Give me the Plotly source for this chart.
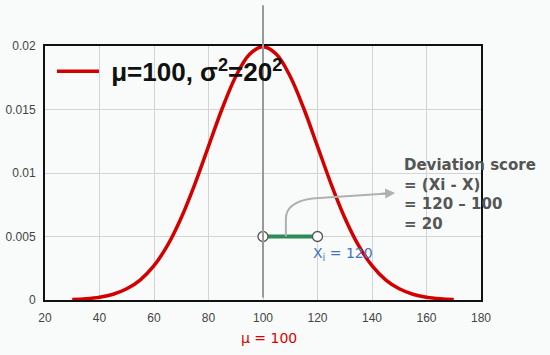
import plotly.graph_objects as go

# Data
x_vals = [30, 35, 40, 45, 50, 55, 60, 65, 70, 75, 80, 85, 90, 95, 100,
          105, 110, 115, 120, 125, 130, 135, 140, 145, 150, 155, 160, 165, 170]
density = [0.00004, 0.00010, 0.00022, 0.00045, 0.00088, 0.00159, 0.00270, 0.00432,
           0.00648, 0.00913, 0.01210, 0.01506, 0.01760, 0.01933, 0.01995,
           0.01933, 0.01760, 0.01506, 0.01210, 0.00913, 0.00648, 0.00432,
           0.00270, 0.00159, 0.00088, 0.00045, 0.00022, 0.00010, 0.00004]
mu = 100
xi = 120
dev_y = 0.005
x_ticks = [20, 40, 60, 80, 100, 120, 140, 160, 180]
y_ticks = [0, 0.005, 0.01, 0.015, 0.02]
y_ticktext = ["0", "0.005", "0.01", "0.015", "0.02"]

BG = "#f8fbf9"
fig = go.Figure()

fig.add_trace(go.Scatter(
    x=x_vals, y=density, mode="lines", line=dict(color="#d40000", width=3.5, shape="spline"),
    name="<b>\u00a0\u03bc=100, \u03c3<sup>2</sup>=20<sup>2</sup></b>", showlegend=True))

fig.add_trace(go.Scatter(
    x=[mu, xi], y=[dev_y, dev_y], mode="lines", line=dict(color="#2e8b57", width=4),
    showlegend=False, hoverinfo="skip"))

# connector arrow path
fig.add_shape(type="path", xref="x", yref="y",
              path="M 108.4,0.005 L 108.4,0.0064 Q 108.4,0.0077 118,0.0080 L 147,0.0084",
              line=dict(color="#b0b0b0", width=2))
fig.add_annotation(x=148.5, y=0.00842, ax=143, ay=0.00836, xref="x", yref="y",
                   axref="x", ayref="y", text="", showarrow=True, arrowhead=2,
                   arrowsize=1, arrowwidth=2, arrowcolor="#b0b0b0")

fig.add_trace(go.Scatter(
    x=[mu, xi], y=[dev_y, dev_y], mode="markers",
    marker=dict(size=10, color="white", line=dict(color="#555555", width=1.3)),
    showlegend=False, hoverinfo="skip"))

# vertical mean line
fig.add_shape(type="line", xref="x", yref="paper", x0=mu, x1=mu, y0=0.01, y1=1.16,
              line=dict(color="#999999", width=2), layer="above")

fig.add_annotation(x=129.4, y=dev_y, xref="x", yref="y", yshift=-17, showarrow=False,
                   text="X<sub>i</sub> = 120",
                   font=dict(family="DejaVu Sans", size=14, color="#4472c4"))
fig.add_annotation(x=102.2, y=-0.15, xref="x", yref="paper", yanchor="middle",
                   showarrow=False, text="\u03bc = 100",
                   font=dict(family="DejaVu Sans", size=14, color="#dd0000"))
fig.add_annotation(x=151.0, y=0.575, xref="x", yref="paper", xanchor="left", yanchor="top",
                   showarrow=False, align="left",
                   text="<b>Deviation score<br>= (Xi - X)<br>= 120 \u2013 100<br>= 20</b>",
                   font=dict(family="DejaVu Sans", size=15, color="#555555"))

fig.update_layout(
    width=550, height=355,
    margin=dict(l=45, r=69, t=46, b=55),
    paper_bgcolor=BG, plot_bgcolor=BG,
    font=dict(family="Liberation Sans, Arial", size=12, color="#444444"),
    legend=dict(x=0.016, y=0.90, xanchor="left", yanchor="middle", bgcolor="rgba(0,0,0,0)",
                font=dict(family="Liberation Sans, Arial", size=26, color="#111111"),
                itemwidth=42),
    xaxis=dict(range=[20, 180], tickvals=x_ticks, showgrid=True, gridcolor="#d4d4d4",
               gridwidth=1, zeroline=False, showline=True, linecolor="#111111", linewidth=2,
               mirror=True, ticks="", ticklabelstandoff=6, automargin=False),
    yaxis=dict(range=[0, 0.02], tickvals=y_ticks, ticktext=y_ticktext, showgrid=True,
               gridcolor="#d4d4d4", gridwidth=1, zeroline=False, showline=True,
               linecolor="#111111", linewidth=2, mirror=True, ticks="", ticklabelstandoff=5,
               automargin=False),
)

fig.write_html("out.html")
